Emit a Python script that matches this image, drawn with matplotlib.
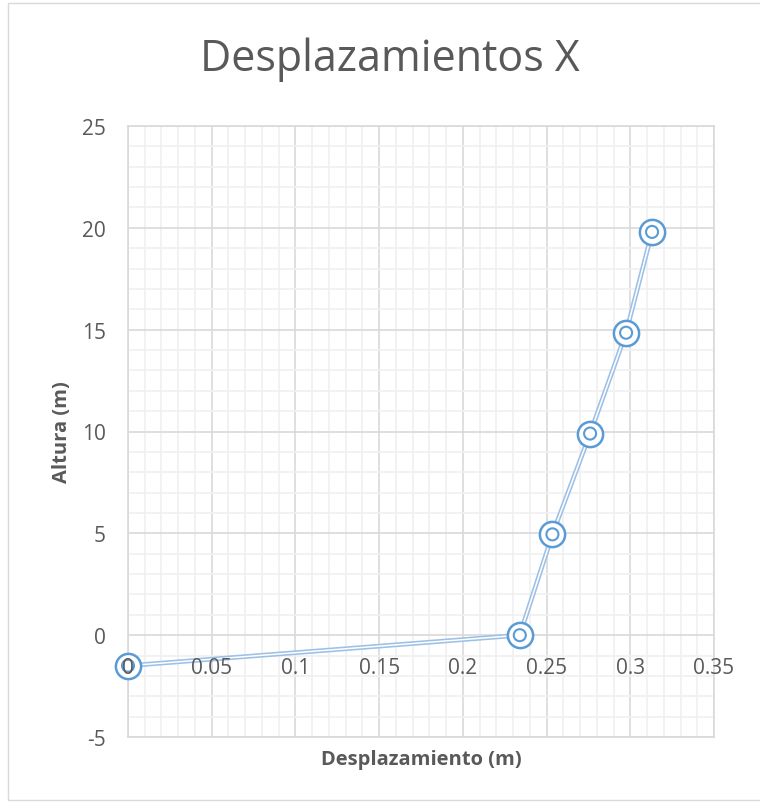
import numpy as np
import matplotlib
matplotlib.use("Agg")
import matplotlib.pyplot as plt
from matplotlib.patches import Rectangle
from matplotlib.transforms import offset_copy

# desplazamientos por nivel (m) y altura del nivel (m)
desplazamiento = [0.0, 0.234, 0.2535, 0.276, 0.2975, 0.313]
altura = [-1.5, 0.0, 4.95, 9.9, 14.85, 19.8]

x_ticks = [0, 0.05, 0.1, 0.15, 0.2, 0.25, 0.3, 0.35]
x_labels = ["0", "0.05", "0.1", "0.15", "0.2", "0.25", "0.3", "0.35"]
y_ticks = [-5, 0, 5, 10, 15, 20, 25]

plt.rcParams['font.family'] = ['Open Sans', 'DejaVu Sans']
plt.rcParams['axes.unicode_minus'] = False
gris = "#595959"
azul = "#5b9bd5"

fig = plt.figure(figsize=(7.6, 8.03), dpi=100)
fig.patches.append(Rectangle((8/760, 2/803), 760/760, 797/803, transform=fig.transFigure,
                             fill=False, edgecolor="#d9d9d9", linewidth=1))
ax = fig.add_axes([128/760, 1-738/803, (714-128)/760, (738-127)/803])

ax.set_xlim(0, 0.35)
ax.set_ylim(-5, 25)
ax.set_xticks(x_ticks)
ax.set_xticklabels([])
ax.set_yticks(y_ticks)
ax.set_xticks(np.arange(0, 0.351, 0.01), minor=True)
ax.set_yticks(np.arange(-5, 25.1, 1), minor=True)

ax.grid(which="minor", color="#f0f0f0", linewidth=1.2)
ax.grid(which="major", color="#d9d9d9", linewidth=1.2)
ax.set_axisbelow(True)

for s in ["top", "right", "left", "bottom"]:
    ax.spines[s].set_color("#d9d9d9")
    ax.spines[s].set_linewidth(1.2)

ax.tick_params(which="both", length=0)
ax.tick_params(axis="y", pad=16, labelsize=15, labelcolor=gris)

# etiquetas del eje x junto a y = 0, por encima de la serie
trans = offset_copy(ax.transData, fig=fig, x=0, y=-16, units="points")
for xt, lab in zip(x_ticks, x_labels):
    ax.text(xt, 0, lab, transform=trans, ha="center", va="top",
            fontsize=15, color=gris, zorder=10, clip_on=False)

# linea doble
ax.plot(desplazamiento, altura, color="#9dc0e6", linewidth=3.4, solid_capstyle="round",
        zorder=3, clip_on=False)
ax.plot(desplazamiento, altura, color="white", linewidth=1.1, zorder=3, clip_on=False)

# marcadores de circulo doble
ax.scatter(desplazamiento, altura, s=330, facecolor="white", edgecolor=azul, linewidth=1.8,
           zorder=4, clip_on=False)
ax.scatter(desplazamiento, altura, s=75, facecolor="none", edgecolor=azul, linewidth=1.5,
           zorder=5, clip_on=False)

fig.text(0.513, 1-60/803, "Desplazamientos X", ha="center", va="center",
         fontsize=31, color=gris)
fig.text(421/760, 1-760/803, "Desplazamiento (m)", ha="center", va="center",
         fontsize=14.5, fontweight="bold", color=gris)
fig.text(62/760, 1-432/803, "Altura (m)", ha="center", va="center", rotation=90,
         fontsize=14.5, fontweight="bold", color=gris)

fig.savefig("out.png", dpi=100)
